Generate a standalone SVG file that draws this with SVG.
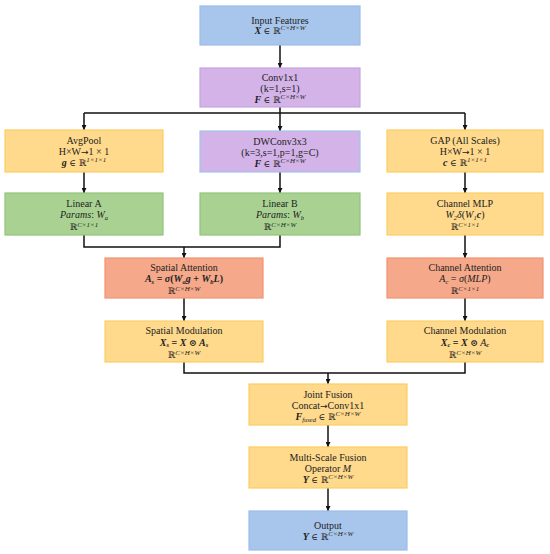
<svg xmlns="http://www.w3.org/2000/svg" width="550" height="554" viewBox="0 0 550 554">
<style>
.box{stroke-width:1.2}
.blue{fill:#a8c6ec;stroke:#9bbde8}
.purple{fill:#d3b3e8;stroke:#c6a5df}
.purple2{fill:#d3b3e8;stroke:#9fc3ea}
.orange{fill:#ffd98c;stroke:#fccd62}
.green{fill:#a9d292;stroke:#92c47a}
.red{fill:#f5a98a;stroke:#f19472}
text{font-family:"Liberation Serif","DejaVu Serif",serif;font-size:10px;fill:#222;text-anchor:middle}
.m{font-style:italic}
.b{font-weight:bold;font-style:italic}
.r{font-family:"DejaVu Serif","Liberation Serif",serif;font-size:9px}
.ar{font-family:"DejaVu Sans",sans-serif;font-size:9px}
.sup{font-size:7px;font-style:italic}
.sub{font-size:6.5px;font-style:italic}
.ln{fill:none;stroke:#111;stroke-width:1.5}
</style>
<defs>
<marker id="ah" viewBox="0 0 10 10" refX="10" refY="5" markerWidth="5" markerHeight="5" orient="auto" markerUnits="userSpaceOnUse">
<path d="M0,0 L10,5 L0,10 z" fill="#111"/>
</marker>
</defs>

<g id="connectors">
<path class="ln" d="M280,45 V68" marker-end="url(#ah)"/>
<path class="ln" d="M280,107 V113 M84,113 H465"/>
<path class="ln" d="M84,113 V130" marker-end="url(#ah)"/>
<path class="ln" d="M280,113 V131" marker-end="url(#ah)"/>
<path class="ln" d="M465,113 V130" marker-end="url(#ah)"/>
<path class="ln" d="M84,172 V193" marker-end="url(#ah)"/>
<path class="ln" d="M280,172 V193" marker-end="url(#ah)"/>
<path class="ln" d="M465,172 V193" marker-end="url(#ah)"/>
<path class="ln" d="M84,235 V247 H280 V235"/>
<path class="ln" d="M184,247 V258" marker-end="url(#ah)"/>
<path class="ln" d="M465,235 V258" marker-end="url(#ah)"/>
<path class="ln" d="M184,298 V321" marker-end="url(#ah)"/>
<path class="ln" d="M465,298 V321" marker-end="url(#ah)"/>
<path class="ln" d="M184,362 V373 H465 V362"/>
<path class="ln" d="M328,373 V384" marker-end="url(#ah)"/>
<path class="ln" d="M328,425 V447" marker-end="url(#ah)"/>
<path class="ln" d="M328,488 V511" marker-end="url(#ah)"/>
</g>

<g id="input">
<rect class="box blue" x="200" y="6" width="160" height="39"/>
<text x="280" y="23.5">Input Features</text>
<text x="280" y="34"><tspan class="b">X</tspan> <tspan class="r">∈ ℝ</tspan><tspan class="sup" dy="-4">C×H×W</tspan></text>
</g>

<g id="conv1x1">
<rect class="box purple" x="200" y="68" width="160" height="39"/>
<text x="280" y="81">Conv1x1</text>
<text x="280" y="92">(k=1,s=1)</text>
<text x="280" y="103"><tspan class="b">F</tspan> <tspan class="r">∈ ℝ</tspan><tspan class="sup" dy="-4">C×H×W</tspan></text>
</g>

<g id="avgpool">
<rect class="box orange" x="5" y="130" width="158" height="42"/>
<text x="84" y="144">AvgPool</text>
<text x="84" y="155">H×W<tspan class="ar">→</tspan>1 × 1</text>
<text x="84" y="165.5"><tspan class="b">g</tspan> <tspan class="r">∈ ℝ</tspan><tspan class="sup" dy="-4">1×1×1</tspan></text>
</g>

<g id="dwconv">
<rect class="box purple2" x="200" y="131" width="160" height="41"/>
<text x="280" y="145">DWConv3x3</text>
<text x="280" y="156">(k=3,s=1,p=1,g=C)</text>
<text x="280" y="166.5"><tspan class="b">F</tspan> <tspan class="r">∈ ℝ</tspan><tspan class="sup" dy="-4">C×H×W</tspan></text>
</g>

<g id="gap">
<rect class="box orange" x="387" y="130" width="156" height="42"/>
<text x="465" y="144">GAP (All Scales)</text>
<text x="465" y="155">H×W<tspan class="ar">→</tspan>1 × 1</text>
<text x="465" y="165.5"><tspan class="b">c</tspan> <tspan class="r">∈ ℝ</tspan><tspan class="sup" dy="-4">1×1×1</tspan></text>
</g>

<g id="linearA">
<rect class="box green" x="5" y="193" width="158" height="42"/>
<text x="84" y="207">Linear A</text>
<text x="84" y="218"><tspan class="m">Params</tspan>: <tspan class="m">W</tspan><tspan class="sub" dy="1.5">a</tspan></text>
<text x="84" y="230"><tspan class="r">ℝ</tspan><tspan class="sup" dy="-3.5">C×1×1</tspan></text>
</g>

<g id="linearB">
<rect class="box green" x="200" y="193" width="160" height="42"/>
<text x="280" y="207">Linear B</text>
<text x="280" y="218"><tspan class="m">Params</tspan>: <tspan class="m">W</tspan><tspan class="sub" dy="1.5">b</tspan></text>
<text x="280" y="230"><tspan class="r">ℝ</tspan><tspan class="sup" dy="-3.5">C×H×W</tspan></text>
</g>

<g id="channelMLP">
<rect class="box orange" x="387" y="193" width="156" height="42"/>
<text x="465" y="207">Channel MLP</text>
<text x="465" y="218"><tspan class="m">W</tspan><tspan class="sub" dy="1.5">2</tspan><tspan class="m" dy="-1.5">δ</tspan>(<tspan class="m">W</tspan><tspan class="sub" dy="1.5">1</tspan><tspan class="b" dy="-1.5">c</tspan>)</text>
<text x="465" y="230"><tspan class="r">ℝ</tspan><tspan class="sup" dy="-3.5">C×1×1</tspan></text>
</g>

<g id="spatialAttention">
<rect class="box red" x="105" y="258" width="158" height="40"/>
<text x="184" y="271">Spatial Attention</text>
<text x="184" y="282" font-weight="bold"><tspan class="b">A</tspan><tspan class="sub" dy="1.5">s</tspan><tspan dy="-1.5"> = </tspan><tspan class="b">σ</tspan>(<tspan class="b">W</tspan><tspan class="sub" dy="1.5">a</tspan><tspan class="b" dy="-1.5">g</tspan> + <tspan class="b">W</tspan><tspan class="sub" dy="1.5">b</tspan><tspan class="b" dy="-1.5">L</tspan>)</text>
<text x="184" y="294"><tspan class="r">ℝ</tspan><tspan class="sup" dy="-3.5">C×H×W</tspan></text>
</g>

<g id="channelAttention">
<rect class="box red" x="387" y="258" width="156" height="40"/>
<text x="465" y="271">Channel Attention</text>
<text x="465" y="282"><tspan class="m">A</tspan><tspan class="sub" dy="1.5">c</tspan><tspan dy="-1.5"> = </tspan><tspan class="m">σ</tspan>(<tspan class="m">MLP</tspan>)</text>
<text x="465" y="294"><tspan class="r">ℝ</tspan><tspan class="sup" dy="-3.5">C×1×1</tspan></text>
</g>

<g id="spatialModulation">
<rect class="box orange" x="105" y="321" width="158" height="41"/>
<text x="184" y="334">Spatial Modulation</text>
<text x="184" y="345.5" font-weight="bold"><tspan class="b">X</tspan><tspan class="sub" dy="1.5">s</tspan><tspan dy="-1.5"> = </tspan><tspan class="b">X</tspan> <tspan class="r">⊙</tspan> <tspan class="b">A</tspan><tspan class="sub" dy="1.5">s</tspan></text>
<text x="184" y="358"><tspan class="r">ℝ</tspan><tspan class="sup" dy="-3.5">C×H×W</tspan></text>
</g>

<g id="channelModulation">
<rect class="box orange" x="387" y="321" width="156" height="41"/>
<text x="465" y="334">Channel Modulation</text>
<text x="465" y="345.5" font-weight="bold"><tspan class="b">X</tspan><tspan class="sub" dy="1.5">c</tspan><tspan dy="-1.5"> = </tspan><tspan class="b">X</tspan> <tspan class="r">⊙</tspan> <tspan class="m" font-weight="normal">A</tspan><tspan class="sub" dy="1.5">c</tspan></text>
<text x="465" y="358"><tspan class="r">ℝ</tspan><tspan class="sup" dy="-3.5">C×H×W</tspan></text>
</g>

<g id="jointFusion">
<rect class="box orange" x="249" y="384" width="158" height="41"/>
<text x="328" y="398">Joint Fusion</text>
<text x="328" y="409">Concat<tspan class="ar">→</tspan>Conv1x1</text>
<text x="328" y="420"><tspan class="b">F</tspan><tspan class="sub" dy="1.5">fused</tspan><tspan dy="-1.5"> </tspan><tspan class="r">∈ ℝ</tspan><tspan class="sup" dy="-4">C×H×W</tspan></text>
</g>

<g id="multiScaleFusion">
<rect class="box orange" x="249" y="447" width="158" height="41"/>
<text x="328" y="461">Multi-Scale Fusion</text>
<text x="328" y="472">Operator <tspan class="m">M</tspan></text>
<text x="328" y="483"><tspan class="b">Y</tspan> <tspan class="r">∈ ℝ</tspan><tspan class="sup" dy="-4">C×H×W</tspan></text>
</g>

<g id="output">
<rect class="box blue" x="249" y="511" width="158" height="39"/>
<text x="328" y="528.5">Output</text>
<text x="328" y="539.5"><tspan class="b">Y</tspan> <tspan class="r">∈ ℝ</tspan><tspan class="sup" dy="-4">C×H×W</tspan></text>
</g>
</svg>
